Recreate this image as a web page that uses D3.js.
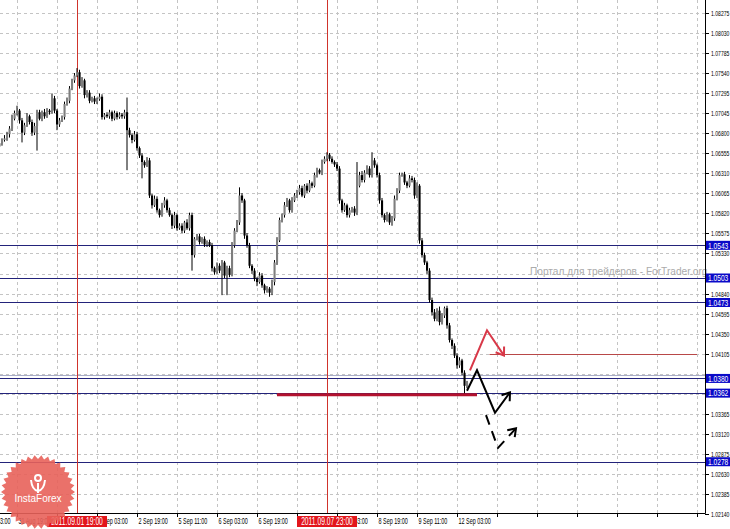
<!DOCTYPE html>
<html><head><meta charset="utf-8">
<script src="https://cdn.jsdelivr.net/npm/d3@7/dist/d3.min.js"></script>
<style>body{margin:0;background:#fff}svg{display:block}</style>
</head><body>
<svg id="c" width="730" height="529"></svg>
<script>
// ---- DATA (H1 bars, prices in units of 1e-4) ----
const firstOpen = 10664;
const closes = [
10668,10672,10674,10679,10686,10698,10705,10708,10696,10681,
10690,10701,10694,10681,10689,10706,10698,10706,10701,10708,
10706,10723,10708,10691,10696,10700,10716,10720,10735,10745,
10751,10755,10738,10745,10727,10730,10720,10723,10719,10722,
10725,10700,10703,10701,10706,10698,10705,10700,10703,10701,
10706,10684,10678,10672,10679,10662,10653,10645,10641,10647,
10604,10592,10600,10586,10580,10592,10598,10586,10580,10567,
10580,10564,10567,10561,10571,10564,10580,10531,10551,10554,
10547,10551,10544,10547,10543,10515,10510,10518,10512,10522,
10506,10515,10507,10543,10561,10571,10604,10598,10555,10543,
10518,10512,10502,10498,10506,10494,10488,10490,10485,10498,
10522,10549,10574,10580,10592,10598,10586,10598,10604,10608,
10613,10604,10616,10610,10619,10616,10629,10635,10632,10645,
10649,10654,10649,10645,10642,10637,10598,10586,10592,10580,
10586,10588,10583,10616,10629,10623,10632,10637,10629,10647,
10641,10629,10598,10580,10574,10581,10571,10576,10600,10610,
10629,10630,10620,10616,10625,10623,10604,10616,10549,10531,
10522,10512,10476,10461,10453,10463,10449,10457,10466,10445,
10427,10420,10408,10396,10402,10387,10371,10375];
const upWick = [
3,2,4,3,3,5,3,6,2,3, 3,4,2,3,4,3,3,2,4,3, 2,6,3,2,3,2,3,4,3,2,
3,5,3,4,2,3,3,2,3,2, 4,3,2,3,3,2,3,2,3,2, 3,18,3,2,4,3,2,3,2,4,
3,2,4,3,2,3,4,2,3,2, 4,2,3,3,2,4,3,3,2,3, 3,2,3,2,3,3,2,4,3,3,
2,3,3,4,3,3,10,3,2,3, 3,2,3,2,4,3,2,3,2,3, 3,4,3,2,4,3,2,4,3,3,
4,3,2,3,4,2,3,3,2,3, 3,3,2,3,2,3,3,2,3,2, 3,2,3,29,4,5,3,4,3,10,
3,2,3,3,2,3,2,3,4,3, 3,2,3,2,4,3,3,4,2,3, 3,2,3,3,4,3,5,3,2,3,
3,2,3,3,4,2,3,2];
const downWick = [
3,3,2,3,4,3,2,3,4,12, 3,2,3,4,3,30,2,3,3,2, 3,2,3,7,3,2,3,2,3,2,
3,2,3,2,4,3,3,2,3,3, 2,3,3,2,3,3,2,3,2,3, 3,49,3,4,2,3,3,20,3,2,
3,4,2,3,3,2,3,3,2,4, 3,3,2,3,3,2,3,19,3,2, 3,2,3,3,2,4,3,2,3,30,
3,24,3,2,3,2,3,3,4,3, 3,4,3,5,2,3,4,3,5,3, 4,3,2,3,3,2,3,3,2,3,
3,2,3,3,2,3,2,3,2,3, 2,3,3,2,3,3,4,3,2,3, 3,3,4,3,2,3,3,2,3,3,
3,3,4,3,3,2,3,4,3,2, 3,2,3,3,2,3,4,3,4,3, 3,4,3,4,3,3,4,3,3,4,
3,4,3,4,3,3,12,3];

const gridTicks = ["1.08275","1.08030","1.07785","1.07540","1.07295","1.07045","1.06800","1.06555",
"1.06310","1.06065","1.05820","1.05575","1.05330","1.05085","1.04840","1.04595","1.04350","1.04105",
"1.03860","1.03615","1.03365","1.03120","1.02875","1.02630","1.02385","1.02140"];
// labels actually visible on the price scale (others are covered by level boxes)
const priceLabels = ["1.08275","1.08030","1.07785","1.07540","1.07295","1.07045","1.06800","1.06555",
"1.06310","1.06065","1.05820","1.05575","1.05330","1.04840","1.04595","1.04350","1.04105",
"1.03365","1.03120","1.02875","1.02630","1.02385","1.02140"];

const gridIdx       = [-9,7,23,39,55,71,87,103,119,135,151,167,183,199,215,231,247,263,279];
const timeLabelIdx  = [-9,7,39,55,71,87,103,135,151,167,183];
const timeLabelText = ["31 Aug 03:00","31 Aug 19:00","2 Sep 03:00","2 Sep 19:00","5 Sep 11:00",
"6 Sep 03:00","6 Sep 19:00","8 Sep 03:00","8 Sep 19:00","9 Sep 11:00","12 Sep 03:00"];

const markIdx  = [31,131];
const markText = ["2011.09.01 19:00","2011.09.07 23:00"];

const levelPrices = [1.0543,1.0503,1.0473,1.0380,1.0362,1.0278];
const levelText   = ["1.0543","1.0503","1.0473","1.0380","1.0362","1.0278"];
const bidPrice = 1.0384;

const supportLine = {from:111, to:191, price:1.0360};
const targetLine  = {from:196, to:279, price:1.0410};

const redArrow   = [[188.2,1.0390],[195,1.0439],[201.8,1.0408]];
const blackArrow = [[187,1.0365],[191,1.0390],[198.2,1.0338],[204.2,1.0363]];
const dashArrow  = [[194.6,1.0335],[199.4,1.0295],[206.6,1.0319]];

// ---- CHART ----
const plotR = 705, plotB = 513;
const FONT = 'Liberation Sans, Arial, sans-serif';
const svg = d3.select('#c');
const x = d3.scaleLinear().domain([0,187]).range([-0.5,467]);
const y = d3.scaleLinear().domain([1.02140,1.08275]).range([514,13]);

svg.append('rect').attr('width',730).attr('height',529).attr('fill','#fff');
svg.append('defs').append('clipPath').attr('id','pc')
  .append('rect').attr('x',0).attr('y',0).attr('width',plotR).attr('height',plotB);
const g = svg.append('g').attr('clip-path','url(#pc)');

// grid
g.selectAll('.hg').data(gridTicks).enter().append('line')
  .attr('x1',0).attr('x2',plotR).attr('y1',d=>Math.round(y(+d))+0.5).attr('y2',d=>Math.round(y(+d))+0.5)
  .attr('stroke','#c4c4c4').attr('stroke-dasharray','3,3');
g.selectAll('.vg').data(gridIdx).enter().append('line')
  .attr('x1',d=>Math.round(x(d))+0.5).attr('x2',d=>Math.round(x(d))+0.5).attr('y1',0).attr('y2',plotB)
  .attr('stroke','#c4c4c4').attr('stroke-dasharray','3,3');

// level lines
g.append('line').attr('x1',0).attr('x2',plotR).attr('y1',Math.round(y(bidPrice))+0.5).attr('y2',Math.round(y(bidPrice))+0.5)
  .attr('stroke','#a8acc8').attr('stroke-width',1);
g.selectAll('.lv').data(levelPrices).enter().append('line')
  .attr('x1',0).attr('x2',plotR).attr('y1',d=>Math.round(y(d))+0.5).attr('y2',d=>Math.round(y(d))+0.5)
  .attr('stroke','#23237a').attr('stroke-width',1);

// red vertical markers
g.selectAll('.mv').data(markIdx).enter().append('line')
  .attr('x1',d=>Math.round(x(d))+0.5).attr('x2',d=>Math.round(x(d))+0.5).attr('y1',0).attr('y2',plotB)
  .attr('stroke','#d0342c').attr('stroke-width',1);

// candles
const bars = closes.map((c,i)=>{
  const o = i===0 ? firstOpen : closes[i-1];
  return {i, o:o/1e4, c:c/1e4, h:(Math.max(o,c)+upWick[i])/1e4, l:(Math.min(o,c)-downWick[i])/1e4};
});
g.selectAll('.wk').data(bars).enter().append('line')
  .attr('x1',d=>x(d.i)).attr('x2',d=>x(d.i)).attr('y1',d=>y(d.h)).attr('y2',d=>y(d.l))
  .attr('stroke','#000').attr('stroke-width',1);
g.selectAll('.bd').data(bars).enter().append('rect')
  .attr('x',d=>x(d.i)-1).attr('width',2.1)
  .attr('y',d=>y(Math.max(d.o,d.c))).attr('height',d=>Math.max(0.8, Math.abs(y(d.o)-y(d.c))))
  .attr('fill',d=>d.c>=d.o?'#7e7e7e':'#000');

// support / target lines
g.append('line').attr('x1',x(supportLine.from)).attr('x2',x(supportLine.to))
  .attr('y1',y(supportLine.price)).attr('y2',y(supportLine.price))
  .attr('stroke','#b3122e').attr('stroke-width',3);
g.append('line').attr('x1',x(targetLine.from)).attr('x2',x(targetLine.to))
  .attr('y1',Math.round(y(targetLine.price))+0.5).attr('y2',Math.round(y(targetLine.price))+0.5)
  .attr('stroke','#b84848').attr('stroke-width',1);

// arrows
const line = d3.line().x(d=>x(d[0])).y(d=>y(d[1]));
function head(pts, color, len){
  const a = pts[pts.length-2], b = pts[pts.length-1];
  const ax=x(a[0]), ay=y(a[1]), bx=x(b[0]), by=y(b[1]);
  const ang = Math.atan2(by-ay, bx-ax);
  const p1=[bx-len*Math.cos(ang-0.6), by-len*Math.sin(ang-0.6)];
  const p2=[bx-len*Math.cos(ang+0.6), by-len*Math.sin(ang+0.6)];
  g.append('path').attr('d',`M${p1}L${bx},${by}L${p2}`).attr('fill','none')
   .attr('stroke',color).attr('stroke-width',2).attr('stroke-linejoin','miter');
}
g.append('path').attr('d',line(redArrow)).attr('fill','none').attr('stroke','#d83848').attr('stroke-width',2);
head(redArrow,'#d83848',9);
g.append('path').attr('d',line(blackArrow)).attr('fill','none').attr('stroke','#000').attr('stroke-width',2);
head(blackArrow,'#000',9);
g.append('path').attr('d',line(dashArrow)).attr('fill','none').attr('stroke','#000').attr('stroke-width',2)
  .attr('stroke-dasharray','10,7');
head(dashArrow,'#000',9);

// watermark
svg.append('text').attr('transform','translate(530,275) scale(0.88,1)')
  .attr('font-family',FONT).attr('font-size',11.5).attr('fill','#ababab')
  .text('Портал для трейдеров - ForTrader.org');

// frame
svg.append('line').attr('x1',plotR+0.5).attr('x2',plotR+0.5).attr('y1',0).attr('y2',plotB+0.5).attr('stroke','#000');
svg.append('line').attr('x1',0).attr('x2',plotR+0.5).attr('y1',plotB+0.5).attr('y2',plotB+0.5).attr('stroke','#000');

// price axis
const pa = svg.append('g');
gridTicks.forEach(t=>{
  const yy = Math.round(y(+t))+0.5;
  pa.append('line').attr('x1',plotR).attr('x2',plotR+4).attr('y1',yy).attr('y2',yy).attr('stroke','#000');
});
priceLabels.forEach(t=>{
  const yy = Math.round(y(+t))+0.5;
  pa.append('text').attr('transform',`translate(${plotR+6},${yy+2.6}) scale(0.68,1)`)
    .attr('font-family',FONT).attr('font-size',7.5).attr('fill','#000').text(t);
});
levelPrices.forEach((p,k)=>{
  const yy = y(p);
  pa.append('rect').attr('x',plotR+1).attr('y',yy-4.5).attr('width',24).attr('height',9).attr('fill','#0a0ac8');
  pa.append('text').attr('transform',`translate(${plotR+3},${yy+3.3}) scale(0.7,1)`)
    .attr('font-family',FONT).attr('font-size',9.5).attr('fill','#fff').text(levelText[k]);
});

// time axis
const ta = svg.append('g');
gridIdx.filter(d=>x(d)<plotR).forEach(d=>{
  const xx = Math.round(x(d))+0.5;
  ta.append('line').attr('x1',xx).attr('x2',xx).attr('y1',plotB).attr('y2',plotB+4).attr('stroke','#000');
});
timeLabelIdx.forEach((d,k)=>{
  const xx = Math.round(x(d))+0.5;
  ta.append('text').attr('transform',`translate(${xx+1},${524}) scale(0.64,1)`)
    .attr('font-family',FONT).attr('font-size',8.5).attr('fill','#000').text(timeLabelText[k]);
});
markIdx.forEach((d,k)=>{
  const xx = x(d);
  ta.append('rect').attr('x',xx-30).attr('y',516).attr('width',60).attr('height',11).attr('fill','#e3161c');
  ta.append('text').attr('transform',`translate(${xx},${525}) scale(0.64,1)`).attr('text-anchor','middle')
    .attr('font-family',FONT).attr('font-size',10.5).attr('fill','#fff').text(markText[k]);
});

// InstaForex badge
const logo = svg.append('g').attr('transform','translate(38,492)');
const N=34, R=37, r=33;
const pts = d3.range(2*N).map(k=>{const a=k*Math.PI/N; const rr=k%2?r:R; return [rr*Math.cos(a), rr*Math.sin(a)];});
logo.append('path').attr('d','M'+pts.join('L')+'Z').attr('fill','#e8625a').attr('opacity',0.9);
logo.append('circle').attr('cx',0).attr('cy',-14).attr('r',3).attr('fill','none').attr('stroke','#fff').attr('stroke-width',2);
logo.append('path').attr('d','M-7,-12 Q-6,-2 0,-1 Q6,-2 7,-12').attr('fill','none').attr('stroke','#fff').attr('stroke-width',2);
logo.append('path').attr('d','M0,-9 L0,1').attr('stroke','#fff').attr('stroke-width',2);
logo.append('text').attr('x',0).attr('y',10).attr('text-anchor','middle')
  .attr('font-family',FONT).attr('font-size',10).attr('fill','#fff').text('InstaForex');
</script>
</body></html>
